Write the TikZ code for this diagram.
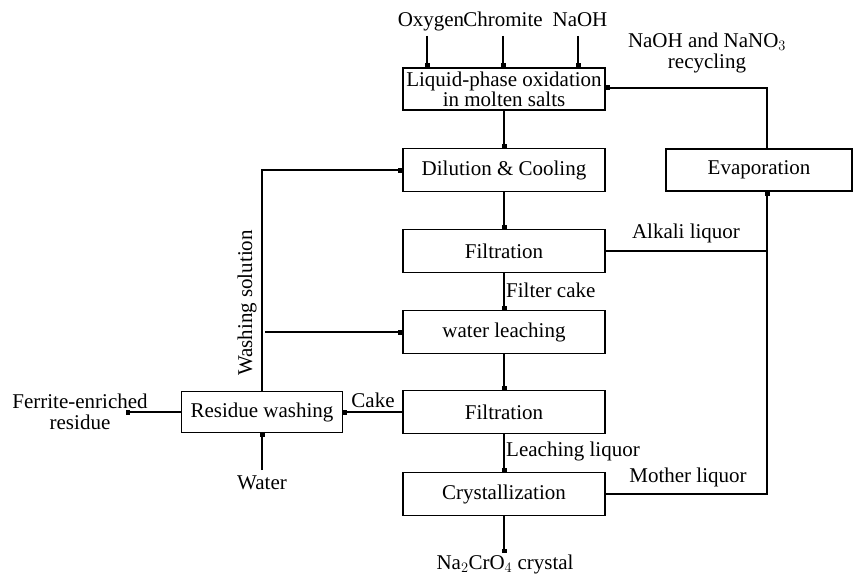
\documentclass[tikz,border=0pt]{standalone}
\usepackage{fontspec}
\setmainfont{Liberation Serif}
\usetikzlibrary{arrows.meta}
\begin{document}
\begin{tikzpicture}[x=1pt,y=-1pt,
  box/.style={draw,line width=1.8pt,minimum height=43pt,inner sep=0pt,align=center,font=\fontsize{21}{19}\selectfont},
  lbl/.style={font=\fontsize{21}{21}\selectfont,inner sep=1pt,align=center},
  flow/.style={line width=1.8pt,-{Square[length=4pt,width=5pt]}},
  ln/.style={line width=1.8pt}]
\useasboundingbox (0,0) rectangle (859,575);
% boxes
\node[box,minimum width=202pt,minimum height=42pt,font=\fontsize{21}{18}\selectfont] (lpo) at (504,89) {Liquid-phase oxidation\\in molten salts};
\node[box,minimum width=202pt] (dil) at (504,170) {Dilution \& Cooling};
\node[box,minimum width=202pt] (fil1) at (504,251) {Filtration};
\node[box,minimum width=202pt] (leach) at (504,332) {water leaching};
\node[box,minimum width=202pt] (fil2) at (504,412) {Filtration};
\node[box,minimum width=202pt] (cry) at (504,494) {Crystallization};
\node[box,minimum width=161pt,minimum height=41pt] (res) at (262,412) {Residue washing};
\node[box,minimum width=186pt,minimum height=42pt] (eva) at (759,170) {Evaporation};
% input labels
\node[lbl,inner sep=0pt,anchor=base] (oxy) at (431,27) {Oxygen};
\node[lbl,inner sep=0pt,anchor=base] (chr) at (503,27) {Chromite};
\node[lbl,inner sep=0pt,anchor=base] (naoh) at (580,27) {NaOH};
\draw[flow] (427,36) -- (lpo.north -| 427,0);
\draw[flow] (503,36) -- (lpo.north -| 503,0);
\draw[flow] (578,36) -- (lpo.north -| 578,0);
% main chain
\draw[flow] (lpo.south) -- (dil.north);
\draw[flow] (dil.south) -- (fil1.north);
\draw[flow] (fil1.south) -- (leach.north);
\draw[flow] (leach.south) -- (fil2.north);
\draw[flow] (fil2.south) -- (cry.north);
\coordinate (naend) at (504,553);
\draw[flow] (cry.south) -- (naend);
\node[lbl] (na) at (505,564) {Na$_2$CrO$_4$ crystal};
% right loop
\coordinate (rtop) at (767,88);
\coordinate (rx) at (767,0);
\draw[flow] (eva.north -| rtop) -- (rtop) -- (lpo.east |- rtop);
\draw[ln] (fil1.east) -- (fil1.east -| rx);
\draw[flow] (cry.east) -- (cry.east -| rx) -- (eva.south -| rx);
\node[lbl] (nano) at (707,53) {NaOH and NaNO$_3$\\recycling};
\node[lbl] (alk) at (686,233) {Alkali liquor};
\node[lbl] (mot) at (688,477) {Mother liquor};
\node[lbl,anchor=west] (fc) at (505,290) {Filter cake};
\node[lbl,anchor=west] (ll) at (505,451) {Leaching liquor};
% left side
\coordinate (wtop) at (262,170);
\coordinate (wbr) at (265,332);
\draw[flow] (res.north) -- (wtop) -- (dil.west);
\draw[flow] (wbr) -- (leach.west);
\node[lbl,rotate=90] (ws) at (247,303) {Washing solution};
\draw[flow] (fil2.west) -- (res.east);
\node[lbl] (cake) at (373,400) {Cake};
\coordinate (fer) at (126,412);
\draw[flow] (res.west) -- (fer);
\node[lbl] (fertxt) at (80,412) {Ferrite-enriched\\residue};
\coordinate (wat) at (262,470);
\draw[flow] (wat) -- (res.south);
\node[lbl] (water) at (262,483) {Water};
\end{tikzpicture}
\end{document}
